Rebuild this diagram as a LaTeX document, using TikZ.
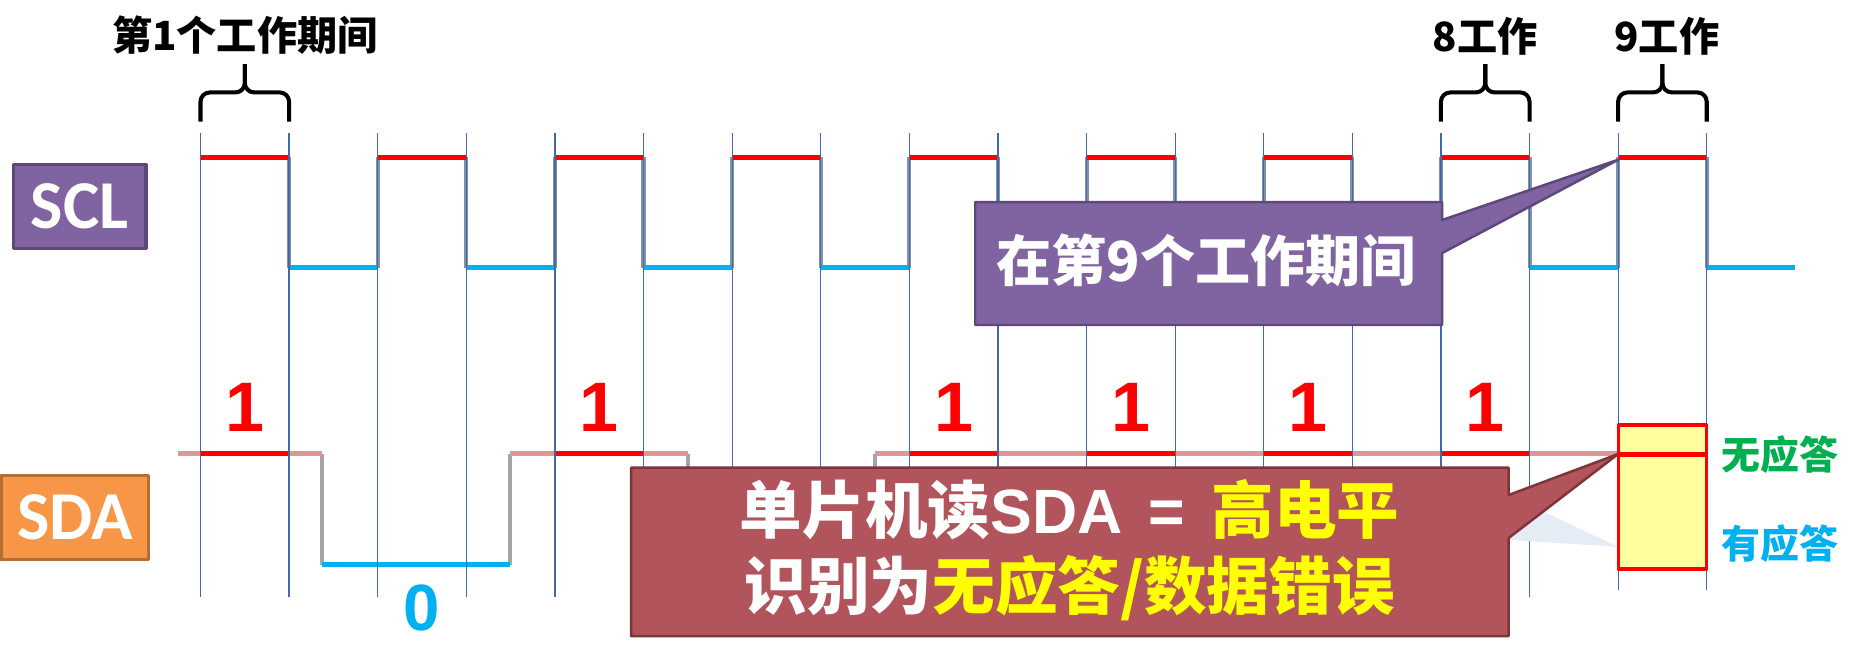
\documentclass[tikz,border=0pt]{standalone}
\usepackage{fontspec}
\setmainfont{Liberation Sans}
\newfontfamily\cjkfont{Noto Sans CJK SC}
\newfontfamily\boxfont{Carlito}
\usepackage{tikz}
\usepackage{xcolor}

\definecolor{sclpurple}{RGB}{128,100,162}
\definecolor{sclborder}{RGB}{92,72,122}
\definecolor{sdaorange}{RGB}{247,150,70}
\definecolor{sdaborder}{RGB}{182,109,49}
\definecolor{hired}{RGB}{255,0,0}
\definecolor{lowblue}{RGB}{0,176,240}
\definecolor{pinkhi}{RGB}{222,150,152}
\definecolor{edgegray}{RGB}{128,146,170}
\definecolor{sdagray}{RGB}{165,165,165}
\definecolor{gridblue}{RGB}{70,105,165}
\definecolor{calred}{RGB}{178,84,92}
\definecolor{calredborder}{RGB}{128,52,58}
\definecolor{ackyellow}{RGB}{255,255,160}
\definecolor{noackgreen}{RGB}{0,176,80}
\definecolor{txtyellow}{RGB}{255,255,0}
\definecolor{ghostblue}{RGB}{230,236,245}

\begin{document}
\begin{tikzpicture}[line join=round,
        vline/.style={gridblue, line width=0.4pt},
        hi/.style={hired, line width=1.6pt},
        lo/.style={lowblue, line width=1.6pt},
        pk/.style={pinkhi, line width=1.6pt},
        sclrise/.style={edgegray, line width=1.3pt},
        sdarise/.style={sdagray, line width=1.3pt},
        brk/.style={black, line width=1.3pt, rounded corners=3pt},
        toplbl/.style={font=\cjkfont\bfseries\fontsize{12.9}{14}\selectfont},
        bitlbl/.style={font=\bfseries\fontsize{22.5}{24}\selectfont},
        sigbox/.style={text=white, line width=1pt, minimum height=0.94cm, inner sep=0pt, font=\boxfont\bfseries\fontsize{22}{24}\selectfont},
        caltxt/.style={text=white, align=center, font=\cjkfont\bfseries\fontsize{20.1}{24.4}\selectfont},
        acklbl/.style={font=\cjkfont\bfseries\fontsize{12.5}{14}\selectfont}]
        \useasboundingbox (-2.263, 0) rectangle (18.775, 7.393);
        % headings and braces
        \node[toplbl] (hdone) at (0.5, 7.0) {第1个工作期间};
        \node[toplbl] (hdeight) at (14.5, 6.98) {8工作};
        \node[toplbl] (hdnine) at (16.55, 6.98) {9工作};
        \draw[brk] (0, 6.02) -- (0, 6.35) -- (0.5, 6.35) -- (0.5, 6.67); \draw[brk] (1, 6.02) -- (1, 6.35) -- (0.5, 6.35) -- (0.5, 6.67);
        \draw[brk] (14, 6.02) -- (14, 6.35) -- (14.5, 6.35) -- (14.5, 6.67); \draw[brk] (15, 6.02) -- (15, 6.35) -- (14.5, 6.35) -- (14.5, 6.67);
        \draw[brk] (16, 6.02) -- (16, 6.35) -- (16.5, 6.35) -- (16.5, 6.67); \draw[brk] (17, 6.02) -- (17, 6.35) -- (16.5, 6.35) -- (16.5, 6.67);
        % signal names
        \node[sigbox, fill=sclpurple, draw=sclborder, minimum width=1.5cm] (sclbox) at (-1.365, 5.062) {SCL};
        \node[sigbox, fill=sdaorange, draw=sdaborder, minimum width=1.67cm] (sdabox) at (-1.417, 1.552) {SDA};
        % SCL
        \draw[sclrise] (1, 5.62) -- (1, 4.37) (2, 4.37) -- (2, 5.62) (3, 5.62) -- (3, 4.37) (4, 4.37) -- (4, 5.62)
            (5, 5.62) -- (5, 4.37) (6, 4.37) -- (6, 5.62) (7, 5.62) -- (7, 4.37) (8, 4.37) -- (8, 5.62)
            (9, 5.62) -- (9, 4.37) (10, 4.37) -- (10, 5.62) (11, 5.62) -- (11, 4.37) (12, 4.37) -- (12, 5.62)
            (13, 5.62) -- (13, 4.37) (14, 4.37) -- (14, 5.62) (15, 5.62) -- (15, 4.37) (16, 4.37) -- (16, 5.62) (17, 5.62) -- (17, 4.37);
        \draw[hi] (0, 5.62) -- (1, 5.62) (2, 5.62) -- (3, 5.62) (4, 5.62) -- (5, 5.62) (6, 5.62) -- (7, 5.62) (8, 5.62) -- (9, 5.62)
            (10, 5.62) -- (11, 5.62) (12, 5.62) -- (13, 5.62) (14, 5.62) -- (15, 5.62) (16, 5.62) -- (17, 5.62);
        \draw[lo] (1, 4.37) -- (2, 4.37) (3, 4.37) -- (4, 4.37) (5, 4.37) -- (6, 4.37) (7, 4.37) -- (8, 4.37) (9, 4.37) -- (10, 4.37)
            (11, 4.37) -- (12, 4.37) (13, 4.37) -- (14, 4.37) (15, 4.37) -- (16, 4.37) (17, 4.37) -- (18, 4.37);
        % SDA
        \draw[sdarise] (1.375, 2.27) -- (1.375, 1.02) (3.493, 1.02) -- (3.493, 2.27) (5.497, 2.27) -- (5.497, 1.02) (7.617, 1.02) -- (7.617, 2.27);
        \draw[pk] (-0.257, 2.27) -- (0, 2.27) (1, 2.27) -- (1.375, 2.27) (3.493, 2.27) -- (4, 2.27) (5, 2.27) -- (5.497, 2.27)
            (7.617, 2.27) -- (8, 2.27) (9, 2.27) -- (10, 2.27) (11, 2.27) -- (12, 2.27) (13, 2.27) -- (14, 2.27) (15, 2.27) -- (16, 2.27);
        \draw[hi] (0, 2.27) -- (1, 2.27) (4, 2.27) -- (5, 2.27) (8, 2.27) -- (9, 2.27) (10, 2.27) -- (11, 2.27) (12, 2.27) -- (13, 2.27) (14, 2.27) -- (15, 2.27);
        \draw[lo] (1.375, 1.02) -- (3.493, 1.02) (5.497, 1.02) -- (7.617, 1.02);
        % clock edges
        \draw[vline] (0, 0.655) -- (0, 5.892) (1, 0.655) -- (1, 5.892) (2, 0.655) -- (2, 5.892) (3, 0.655) -- (3, 5.892)
            (4, 0.655) -- (4, 5.892) (5, 0.655) -- (5, 5.892) (6, 0.655) -- (6, 5.892) (7, 0.655) -- (7, 5.892)
            (8, 0.655) -- (8, 5.892) (9, 0.655) -- (9, 5.892) (10, 0.655) -- (10, 5.892) (11, 0.655) -- (11, 5.892)
            (12, 0.655) -- (12, 5.892) (13, 0.655) -- (13, 5.892) (14, 0.655) -- (14, 5.892) (15, 0.655) -- (15, 5.892)
            (16, 0.73) -- (16, 5.892) (17, 0.73) -- (17, 5.892);
        % bit values
        \node[bitlbl, text=hired] (bita) at (0.5, 2.8) {1};
        \node[bitlbl, text=lowblue, font=\bfseries\fontsize{21}{23}\selectfont] (bitb) at (2.5, 0.53) {0};
        \node[bitlbl, text=hired] (bitc) at (4.5, 2.8) {1};
        \node[bitlbl, text=hired] (bite) at (8.5, 2.8) {1};
        \node[bitlbl, text=hired] (bitf) at (10.5, 2.8) {1};
        \node[bitlbl, text=hired] (bitg) at (12.5, 2.8) {1};
        \node[bitlbl, text=hired] (bith) at (14.5, 2.8) {1};
        % callouts
        \fill[ghostblue] (14.764, 1.806) -- (16, 1.22) -- (14.764, 1.30) -- cycle;
        \draw[calredborder, fill=calred, line width=0.8pt] (4.859, 2.114) -- (14.764, 2.114) -- (14.764, 1.806) -- (16, 2.269)
            -- (14.764, 1.321) -- (14.764, 0.214) -- (4.859, 0.214) -- cycle;
        \node[caltxt] (readsda) at (9.81, 1.185) {单片机读{\rmfamily SDA\hspace{0.42em}=\hspace{0.42em}}{\color{txtyellow}高电平}\\识别为{\color{txtyellow}无应答/数据错误}};
        \draw[sclborder, fill=sclpurple, line width=0.8pt] (8.744, 5.113) -- (14.013, 5.113) -- (14.013, 4.91) -- (16, 5.59)
            -- (14.013, 4.537) -- (14.013, 3.725) -- (8.744, 3.725) -- cycle;
        \node[caltxt, font=\cjkfont\bfseries\fontsize{17.7}{20}\selectfont] (ninth) at (11.35, 4.45) {在第9个工作期间};
        % ACK slot
        \draw[hired, fill=ackyellow, line width=1pt] (16, 0.971) rectangle (17, 2.596);
        \draw[hi] (16, 2.269) -- (17, 2.269);
        \node[acklbl, text=noackgreen] (noack) at (17.826, 2.257) {无应答};
        \node[acklbl, text=lowblue] (ack) at (17.826, 1.253) {有应答};
\end{tikzpicture}
\end{document}
